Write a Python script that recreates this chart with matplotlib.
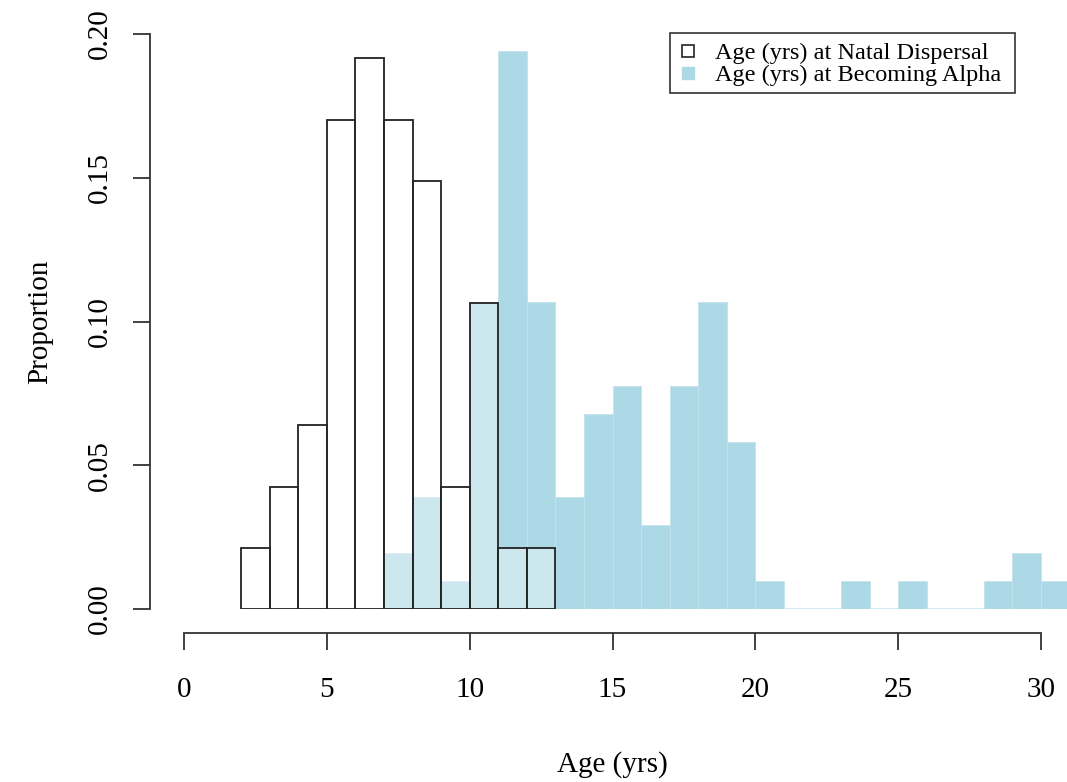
import matplotlib
matplotlib.use("Agg")
import matplotlib.pyplot as plt
from matplotlib.lines import Line2D
from matplotlib.patches import Rectangle
import numpy as np

plt.rcParams['font.family'] = ['Liberation Serif', 'DejaVu Serif']

# ---- data ----
natal_edges_start = 2
natal_counts = [1, 2, 3, 8, 9, 8, 7, 2, 5, 1, 1]          # bins 2-3 ... 12-13
alpha_edges_start = 7
alpha_counts = [2, 4, 1, 11, 20, 11, 4, 7, 8, 3, 8, 11,    # bins 7-8 ... 18-19
                6, 1, 0, 0, 1, 0, 1, 0, 0, 1, 2, 1]        # bins 19-20 ... 30-31
x_ticks = [0, 5, 10, 15, 20, 25, 30]
y_ticks = [0.00, 0.05, 0.10, 0.15, 0.20]
y_ticklabels = ["0.00", "0.05", "0.10", "0.15", "0.20"]
legend_labels = ["Age (yrs) at Natal Dispersal", "Age (yrs) at Becoming Alpha"]
x_label = "Age (yrs)"
y_label = "Proportion"

natal_prop = np.array(natal_counts) / sum(natal_counts)
alpha_prop = np.array(alpha_counts) / sum(alpha_counts)
natal_left = natal_edges_start + np.arange(len(natal_counts))
alpha_left = alpha_edges_start + np.arange(len(alpha_counts))

W, H = 1067, 782
fig = plt.figure(figsize=(W / 100, H / 100), dpi=100)

# pixel geometry
px_x0, px_x30 = 184, 1041
px_y0, px_y20 = 609, 34
ax_left_px = 150
ppu = (px_x30 - px_x0) / 30.0
xmin = (ax_left_px - px_x0) / ppu
xmax = (W - px_x0) / ppu
ax = fig.add_axes([ax_left_px / W, (H - px_y0) / H, (W - ax_left_px) / W, (px_y0 - px_y20) / H])
ax.set_xlim(xmin, xmax)
ax.set_ylim(0, 0.2)

blue = "#ADD8E6"
ax.bar(alpha_left, alpha_prop, width=1.0, align='edge', color=blue,
       edgecolor="#c4e3ec", linewidth=0.6, zorder=2)
zero = alpha_prop == 0
ax.hlines(alpha_prop[zero], alpha_left[zero], alpha_left[zero] + 1.0,
          color="#d3eaf1", linewidth=1.5, zorder=2)
ax.bar(natal_left, natal_prop, width=1.0, align='edge', facecolor=(1, 1, 1, 0.4),
       edgecolor="#222222", linewidth=1.3, zorder=3)

for s in ['top', 'right']:
    ax.spines[s].set_visible(False)
ax.spines['left'].set_bounds(0, 0.2)
ax.spines['bottom'].set_position(('outward', 17.3))
ax.spines['bottom'].set_bounds(0, 30)
for s in ['left', 'bottom']:
    ax.spines[s].set_linewidth(1.3)
    ax.spines[s].set_color("#333333")

ax.set_xticks(x_ticks)
ax.set_xticklabels([str(v) for v in x_ticks])
ax.set_yticks(y_ticks)
ax.set_yticklabels(y_ticklabels, rotation=90, va='center')
ax.tick_params(axis='both', length=12, width=1.3, color="#333333", labelsize=21)
ax.tick_params(axis='x', pad=20)
ax.tick_params(axis='y', pad=15)

fig.text(612 / W, 1 - 765 / H, x_label, ha='center', va='center', fontsize=21)
fig.text(40 / W, 1 - 322 / H, y_label, ha='center', va='center', rotation=90, fontsize=21)

# legend frame
fig.patches.append(Rectangle((670 / W, 1 - 93 / H), (1015 - 670) / W, 60 / H,
                             transform=fig.transFigure, facecolor='white',
                             edgecolor='#333333', linewidth=1.2, zorder=4))
handles = [Line2D([], [], linestyle='none', marker='s', markersize=9,
                  markerfacecolor='none', markeredgecolor='#222222', markeredgewidth=1.2),
           Line2D([], [], linestyle='none', marker='s', markersize=9,
                  markerfacecolor=blue, markeredgecolor=blue)]
leg = fig.legend(handles, legend_labels, loc='upper left',
                 bbox_to_anchor=(676 / W, 1 - 42 / H), fontsize=17.5,
                 frameon=False, borderpad=0, labelspacing=0.0,
                 handletextpad=0.62, handlelength=1.0, borderaxespad=0)
leg.set_zorder(5)

fig.savefig("out.png", dpi=100)
